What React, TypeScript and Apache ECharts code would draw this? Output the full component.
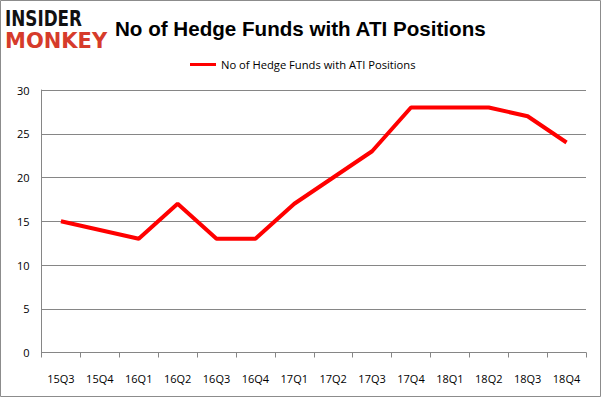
import React, { useEffect, useRef } from "react";
import * as echarts from "echarts";

const categories = ["15Q3", "15Q4", "16Q1", "16Q2", "16Q3", "16Q4", "17Q1", "17Q2", "17Q3", "17Q4", "18Q1", "18Q2", "18Q3", "18Q4"];
const values = [15, 14, 13, 17, 13, 13, 17, 20, 23, 28, 28, 28, 27, 24];
const seriesName = "No of Hedge Funds with ATI Positions";
const titleText = "No of Hedge Funds with ATI Positions";

export default function App() {
  const ref = useRef<HTMLDivElement>(null);
  useEffect(() => {
    if (!ref.current) return;
    const chart = echarts.init(ref.current, null, { renderer: "svg" });
    chart.setOption({
      animation: false,
      backgroundColor: "#ffffff",
      textStyle: { fontFamily: "Open Sans" },
      title: {
        text: titleText,
        left: 110,
        top: 13,
        textStyle: { fontFamily: "Liberation Sans", fontWeight: "bold", fontSize: 20.6, color: "#000" },
      },
      legend: {
        top: 54,
        left: 185,
        itemWidth: 26,
        itemHeight: 3,
        icon: "rect",
        itemGap: 4,
        textStyle: { fontSize: 11.2, color: "#000", fontFamily: "Open Sans" },
        data: [seriesName],
      },
      grid: { left: 41.5, right: 16, top: 90, bottom: 45.5, containLabel: false },
      xAxis: {
        type: "category",
        data: categories,
        boundaryGap: true,
        axisLine: { lineStyle: { color: "#868686" } },
        axisTick: { show: true, length: 5, alignWithLabel: false, lineStyle: { color: "#868686" } },
        axisLabel: { color: "#000", fontSize: 11, margin: 20, fontFamily: "Open Sans" },
      },
      yAxis: {
        type: "value",
        min: 0,
        max: 30,
        interval: 5,
        axisLine: { show: true, lineStyle: { color: "#868686" } },
        axisTick: { show: false },
        splitLine: { lineStyle: { color: "#868686" } },
        axisLabel: { color: "#000", fontSize: 11, margin: 12, fontFamily: "Open Sans" },
      },
      series: [
        {
          name: seriesName,
          type: "line",
          data: values,
          symbol: "none",
          lineStyle: { color: "#ff0000", width: 4 },
          itemStyle: { color: "#ff0000" },
        },
      ],
      graphic: [
        {
          type: "rect",
          shape: { x: 0.5, y: 0.5, width: 600, height: 396 },
          style: { fill: "none", stroke: "#8c8c8c", lineWidth: 1 },
          silent: true,
        },
        {
          type: "text",
          x: 5,
          y: 8,
          scaleX: 0.8,
          style: { text: "INSIDER", font: "900 21px 'DejaVu Sans'", fill: "#111" },
        },
        {
          type: "text",
          x: 5,
          y: 30,
          style: { text: "MONKEY", font: "900 21px 'DejaVu Sans'", fill: "#d63b2b" },
        },
      ],
    });
    return () => chart.dispose();
  }, []);
  return <div ref={ref} style={{ width: 602, height: 398, position: "absolute", left: 0, top: 0 }} />;
}
